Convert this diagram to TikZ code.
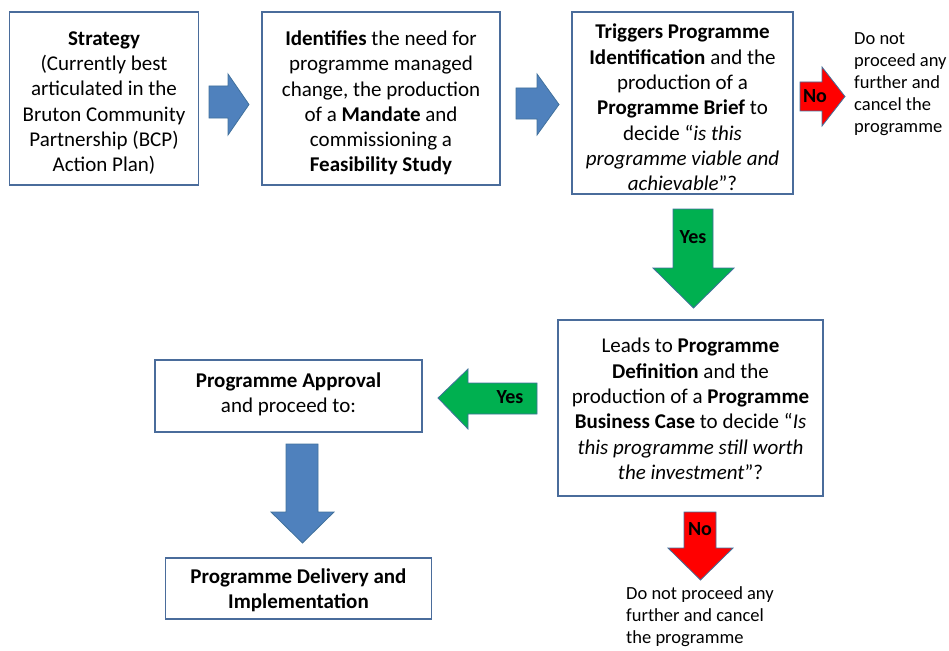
\documentclass[tikz,border=0pt]{standalone}
\usepackage{fontspec}
\setmainfont{Carlito}
\definecolor{boxline}{HTML}{4A6C9B}
\definecolor{bluefill}{HTML}{4F81BD}
\definecolor{arrline}{HTML}{41719C}
\definecolor{greenfill}{HTML}{00B050}
\definecolor{redfill}{HTML}{FF0000}
\begin{document}
\begin{tikzpicture}[x=1pt,y=-1pt,
  box/.style={draw=boxline,line width=1.2pt,minimum width=#1,inner sep=0pt},
  boxtext/.style={align=center,inner sep=0pt,font=\fontsize{21}{25.3}\selectfont},
  smalltext/.style={align=left,inner sep=0pt,font=\fontsize{18.5}{22}\selectfont},
  arrlabel/.style={inner sep=0pt,font=\fontsize{20}{24}\selectfont\bfseries},
  blockarrow/.style={draw=arrline,line width=0.8pt,line join=miter}]
\useasboundingbox (0,0) rectangle (949,650);
% boxes
\node[box=189pt,minimum height=173pt] (b1) at (104,98.5) {};
\node[box=238pt,minimum height=173pt] (b2) at (381,98.5) {};
\node[box=221pt,minimum height=182pt] (b3) at (682.5,103) {};
\node[box=265pt,minimum height=176pt] (b4) at (690.5,408) {};
\node[box=267pt,minimum height=72pt] (b5) at (288.5,396) {};
\node[box=266pt,minimum height=61pt] (b6) at (298.5,588.5) {};
% box texts
\node[boxtext] (t1) at (104,103) {\textbf{Strategy}\\(Currently best\\articulated in the\\Bruton Community\\Partnership (BCP)\\Action Plan)};
\node[boxtext] (t2) at (381,103) {\textbf{Identifies} the need for\\programme managed\\change, the production\\of a \textbf{Mandate} and\\commissioning a\\\textbf{Feasibility Study}};
\node[boxtext] (t3) at (682.5,107.5) {\textbf{Triggers Programme}\\\textbf{Identification} and the\\production of a\\\textbf{Programme Brief} to\\decide “\textit{is this}\\\textit{programme viable and}\\\textit{achievable}”?};
\node[boxtext] (t4) at (690.5,409) {Leads to \textbf{Programme}\\\textbf{Definition} and the\\production of a \textbf{Programme}\\\textbf{Business Case} to decide “\textit{Is}\\\textit{this programme still worth}\\\textit{the investment}”?};
\node[boxtext] (t5) at (288.5,394.5) {\textbf{Programme Approval}\\and proceed to:};
\node[boxtext] (t6) at (298.5,590) {\textbf{Programme Delivery and}\\\textbf{Implementation}};
% side texts
\node[smalltext,anchor=north west] (n1) at (854,32) {Do not\\proceed any\\further and\\cancel the\\programme};
\node[smalltext,anchor=north west] (n2) at (626,586) {Do not proceed any\\further and cancel\\the programme};
% block arrows
\draw[blockarrow,fill=bluefill] (209,86) -- (228,86) -- (228,74) -- (249,104.5) -- (228,135) -- (228,118) -- (209,118) -- cycle;
\draw[blockarrow,fill=bluefill] (516,88) -- (537,88) -- (537,74) -- (559,104.5) -- (537,135) -- (537,119) -- (516,119) -- cycle;
\draw[blockarrow,fill=redfill] (800,82) -- (822,82) -- (822,67) -- (845,96.5) -- (822,126) -- (822,111) -- (800,111) -- cycle;
\draw[blockarrow,fill=greenfill] (673,209) -- (713,209) -- (713,268) -- (734,268) -- (693.5,308) -- (653,268) -- (673,268) -- cycle;
\draw[blockarrow,fill=greenfill] (537,383) -- (537,414) -- (468,414) -- (468,429) -- (438,398) -- (468,369) -- (468,383) -- cycle;
\draw[blockarrow,fill=bluefill] (286,444) -- (318,444) -- (318,512) -- (334,512) -- (302.5,543) -- (271,512) -- (286,512) -- cycle;
\draw[blockarrow,fill=redfill] (684,512) -- (716,512) -- (716,548) -- (733,548) -- (700.5,580) -- (668,548) -- (684,548) -- cycle;
% arrow labels
\node[arrlabel] (l1) at (815,96) {No};
\node[arrlabel] (l2) at (693,237) {Yes};
\node[arrlabel] (l3) at (510,397) {Yes};
\node[arrlabel] (l4) at (700,529) {No};
\end{tikzpicture}
\end{document}
